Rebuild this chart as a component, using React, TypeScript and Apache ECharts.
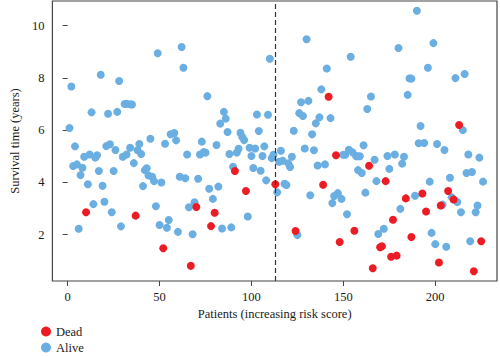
import React, { useEffect, useRef } from "react";
import * as echarts from "echarts";

// [patient index, survival time (years)]
const alivePoints: number[][] = [
  [2, 7.67], [18, 8.12], [28, 7.88], [31, 7.0], [32, 7.01], [34, 6.99], [35, 6.98],
  [13, 6.68], [22, 6.63], [27, 6.7], [1, 6.08], [4, 5.38], [21, 5.39], [23, 5.46],
  [26, 5.24], [34, 5.33], [39, 5.47], [38, 5.23], [40, 5.09], [9, 4.98], [12, 5.07],
  [15, 4.95], [16, 5.04], [30, 4.98], [32, 5.07], [36, 4.74], [3, 4.63], [5, 4.69],
  [8, 4.56], [17, 4.44], [25, 4.44], [7, 4.28], [11, 3.93], [19, 3.87], [41, 3.86],
  [20, 3.26], [14, 3.17], [24, 2.86], [6, 2.23], [29, 2.32],
  [49, 8.94], [62, 9.18], [63, 8.39], [76, 7.3], [85, 6.7], [86, 6.44], [83, 6.25],
  [87, 5.93], [45, 5.67], [56, 5.84], [58, 5.89], [53, 5.48], [59, 5.61], [73, 5.56],
  [81, 5.43], [65, 5.07], [72, 5.07], [74, 5.16], [75, 5.14], [88, 5.09], [90, 4.6],
  [42, 4.47], [43, 4.54], [44, 4.27], [46, 4.22], [47, 4.05], [51, 4.0], [61, 4.22],
  [64, 4.16], [71, 4.14], [77, 3.76], [82, 3.84], [79, 3.37], [48, 3.09], [69, 3.24],
  [66, 3.05], [50, 2.37], [55, 2.56], [54, 2.27], [60, 2.11], [68, 2.02], [84, 2.24],
  [89, 2.28],
  [130, 9.48], [110, 8.73], [138, 7.56], [127, 7.07], [131, 7.12], [103, 6.6], [109, 6.59],
  [126, 6.65], [128, 6.54], [137, 6.49], [135, 6.26], [94, 5.9], [95, 5.74], [96, 5.62],
  [104, 5.97], [123, 5.98], [133, 5.84], [92, 5.14], [93, 5.29], [99, 5.33], [102, 5.3],
  [107, 5.38], [100, 5.01], [106, 5.01], [111, 4.93], [112, 5.06], [116, 5.21], [115, 4.79],
  [117, 4.83], [120, 4.73], [121, 4.59], [122, 4.98], [129, 5.3], [134, 5.23], [136, 4.65],
  [101, 4.55], [105, 4.45], [108, 4.08], [114, 3.62], [118, 3.95], [119, 3.9], [132, 3.51],
  [98, 2.7], [125, 1.99],
  [154, 8.81], [180, 9.14], [141, 8.36], [165, 7.29], [163, 6.81], [186, 7.98], [187, 7.97],
  [185, 7.35], [143, 6.46], [140, 4.69], [150, 5.06], [151, 5.06], [153, 5.25], [155, 5.15],
  [157, 5.0], [158, 5.0], [159, 5.0], [161, 5.42], [158, 4.47], [160, 4.36], [167, 4.87],
  [174, 5.01], [178, 5.07], [183, 4.98], [182, 4.72], [175, 4.52], [168, 4.05], [145, 3.48],
  [147, 3.59], [144, 3.21], [149, 3.37], [162, 3.61], [152, 2.78], [181, 2.99], [172, 2.23],
  [169, 2.03],
  [190, 10.57], [199, 9.33], [196, 8.39], [211, 7.99], [216, 8.15], [192, 6.16], [215, 6.0],
  [191, 5.5], [194, 5.51], [201, 5.47], [205, 5.24], [218, 5.07], [224, 4.95], [217, 4.36],
  [220, 4.4], [197, 4.03], [208, 4.18], [226, 4.03], [189, 3.49], [204, 3.15], [209, 3.43],
  [212, 3.25], [214, 2.86], [222, 2.86], [223, 3.12], [198, 2.07], [200, 1.64], [206, 1.54],
  [219, 1.75],
];

const deadPoints: number[][] = [
  [10, 2.86], [37, 2.73], [70, 3.06], [80, 2.84], [78, 2.33], [52, 1.48], [67, 0.81],
  [91, 4.44], [97, 3.67], [113, 3.93], [139, 3.91], [124, 2.14], [142, 7.28], [146, 5.04],
  [164, 4.64], [173, 4.05], [184, 3.39], [177, 2.57], [156, 2.15], [148, 1.72], [170, 1.52],
  [171, 1.56], [176, 1.16], [179, 1.2], [187, 1.91], [166, 0.72], [213, 6.2], [193, 3.58],
  [207, 3.67], [195, 2.89], [203, 3.12], [210, 3.35], [202, 0.94], [225, 1.75], [221, 0.6],
];

const xTicks = [0, 50, 100, 150, 200];
const yTicks = [2, 4, 6, 8, 10];
const cutoff = 113;

const FONT = "'Liberation Serif', 'DejaVu Serif', serif";
const BLUE = "#6aaee2";
const RED = "#ec1c24";

export default function App() {
  const ref = useRef<HTMLDivElement>(null);
  useEffect(() => {
    if (!ref.current) return;
    const chart = echarts.init(ref.current, null, { renderer: "svg" });
    chart.setOption({
      animation: false,
      backgroundColor: "#ffffff",
      textStyle: { fontFamily: FONT },
      grid: {
        left: 41,
        top: 1,
        width: 456,
        height: 280,
        show: true,
        borderColor: "#444444",
        borderWidth: 1.2,
        backgroundColor: "transparent",
      },
      legend: {
        orient: "vertical",
        left: 41,
        top: 325,
        padding: 0,
        itemGap: 3,
        itemWidth: 10,
        itemHeight: 10,
        icon: "circle",
        textStyle: { fontFamily: FONT, fontSize: 12.5, color: "#1a1a1a" },
        data: ["Dead", "Alive"],
      },
      xAxis: {
        type: "value",
        min: -8.3,
        max: 233.6,
        name: "Patients (increasing risk score)",
        nameLocation: "middle",
        nameGap: 26,
        nameTextStyle: { fontFamily: FONT, fontSize: 12.5, color: "#1a1a1a" },
        axisLine: { show: false },
        axisTick: { show: true, length: 5, customValues: xTicks, lineStyle: { color: "#444" } },
        axisLabel: {
          customValues: xTicks,
          margin: 9,
          fontFamily: FONT,
          fontSize: 12.5,
          color: "#1a1a1a",
        },
        splitLine: { show: false },
      },
      yAxis: {
        type: "value",
        min: 0.23,
        max: 10.94,
        name: "Survival time (years)",
        nameLocation: "middle",
        nameGap: 26,
        nameTextStyle: { fontFamily: FONT, fontSize: 12.5, color: "#1a1a1a" },
        axisLine: { show: false },
        axisTick: { show: true, length: 5, customValues: yTicks, lineStyle: { color: "#444" } },
        axisLabel: {
          customValues: yTicks,
          margin: 8,
          fontFamily: FONT,
          fontSize: 12.5,
          color: "#1a1a1a",
        },
        splitLine: { show: false },
      },
      series: [
        {
          name: "Alive",
          type: "scatter",
          data: alivePoints,
          symbolSize: 8,
          itemStyle: { color: BLUE, opacity: 1 },
          markLine: {
            silent: true,
            symbol: "none",
            label: { show: false },
            lineStyle: { type: [5, 3], color: "#333", width: 1.2, opacity: 1 },
            data: [{ xAxis: cutoff }],
          },
        },
        {
          name: "Dead",
          type: "scatter",
          data: deadPoints,
          symbolSize: 8,
          itemStyle: { color: RED, opacity: 1 },
        },
      ],
    });
    return () => chart.dispose();
  }, []);
  return <div ref={ref} style={{ width: 500, height: 356, position: "absolute", left: 0, top: 0 }} />;
}
